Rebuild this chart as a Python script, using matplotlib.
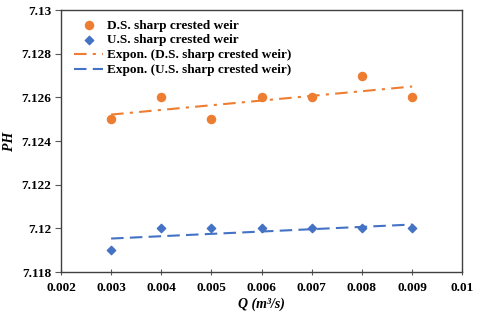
import numpy as np
import matplotlib
matplotlib.use('Agg')
import matplotlib.pyplot as plt

plt.rcParams['font.family'] = ['Liberation Serif', 'DejaVu Serif']
plt.rcParams['font.weight'] = 'bold'

q = [0.003, 0.004, 0.005, 0.006, 0.007, 0.008, 0.009]
ph_ds = [7.125, 7.126, 7.125, 7.126, 7.126, 7.127, 7.126]
ph_us = [7.119, 7.120, 7.120, 7.120, 7.120, 7.120, 7.120]
x_ticks = [0.002, 0.003, 0.004, 0.005, 0.006, 0.007, 0.008, 0.009, 0.01]
x_labels = ['0.002', '0.003', '0.004', '0.005', '0.006', '0.007', '0.008', '0.009', '0.01']
y_ticks = [7.118, 7.12, 7.122, 7.124, 7.126, 7.128, 7.13]
y_labels = ['7.118', '7.12', '7.122', '7.124', '7.126', '7.128', '7.13']

orange = '#ED7D31'
blue = '#4472C4'


def expon_fit(x, y):
    # excel-style exponential trendline: y = a * exp(b x)
    b, ln_a = np.polyfit(x, np.log(y), 1)
    xs = np.array(x)
    return xs, np.exp(ln_a) * np.exp(b * xs)


fig = plt.figure(figsize=(4.8, 3.16), dpi=100)
ax = fig.add_axes([0.127, 0.139, 0.836, 0.829])

ax.scatter(q, ph_ds, s=34, color=orange, marker='o', zorder=3, label='D.S. sharp crested weir')
ax.scatter(q, ph_us, s=18, color=blue, marker='D', zorder=3, label='U.S. sharp crested weir')

xs, ys = expon_fit(q, ph_ds)
ax.plot(xs, ys, color=orange, lw=1.5, dashes=[6, 3, 1.5, 3], label='Expon. (D.S. sharp crested weir)')
xs, ys = expon_fit(q, ph_us)
ax.plot(xs, ys, color=blue, lw=1.5, dashes=[6, 3], label='Expon. (U.S. sharp crested weir)')

ax.set_xlim(0.002, 0.01)
ax.set_ylim(7.118, 7.13)
ax.set_xticks(x_ticks)
ax.set_xticklabels(x_labels, fontweight='bold', fontsize=9.5)
ax.set_yticks(y_ticks)
ax.set_yticklabels(y_labels, fontweight='bold', fontsize=9.5)
ax.tick_params(axis='x', direction='inout', length=4, colors='#595959', labelcolor='black', pad=5)
ax.tick_params(axis='y', direction='out', length=4, colors='#595959', labelcolor='black', pad=3)
for sp in ax.spines.values():
    sp.set_color('#404040')
    sp.set_linewidth(1.0)

ax.set_xlabel('Q (m\u00b3/s)', fontsize=10, fontstyle='italic', fontweight='bold', labelpad=3)
ax.set_ylabel('PH', fontsize=10, fontstyle='italic', fontweight='bold', labelpad=4)

leg = ax.legend(loc='upper left', frameon=False, fontsize=9.5, handlelength=2.2,
                borderaxespad=0.3, labelspacing=0.2, handletextpad=0.3,
                bbox_to_anchor=(0.01, 1.0))
for t in leg.get_texts():
    t.set_fontweight('bold')

fig.savefig('out.png', dpi=100)
